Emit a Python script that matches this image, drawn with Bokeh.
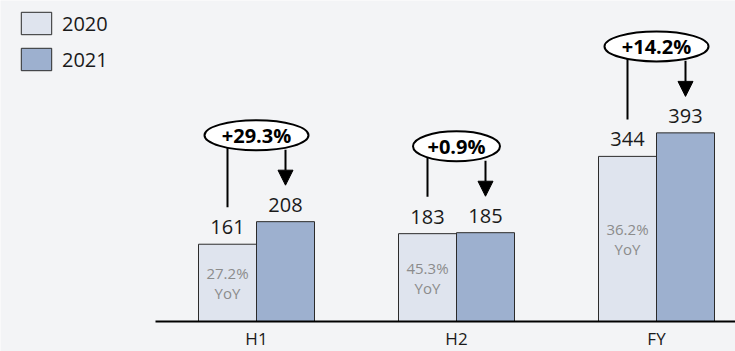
from bokeh.plotting import figure
from bokeh.models import (ColumnDataSource, Range1d, Legend, LegendItem,
                          Arrow, NormalHead)
from bokeh.core.properties import value
from bokeh.embed import file_html
from bokeh.resources import INLINE

# --- data -------------------------------------------------------------------
periods = ["H1", "H2", "FY"]
sales_2020 = [161, 183, 344]
sales_2021 = [208, 185, 393]
yoy_2020 = ["27.2%", "45.3%", "36.2%"]
growth = ["+29.3%", "+0.9%", "+14.2%"]
years = ["2020", "2021"]

# --- style ------------------------------------------------------------------
FONT = "Open Sans"
BG = "#F3F4F6"
C2020 = "#DFE4EE"
C2021 = "#9DB0CF"
EDGE = "#2b2b2b"
TXT = "#1a1a1a"
BAR_W = 0.29

xs = list(range(len(periods)))
x20 = [x - BAR_W / 2 for x in xs]
x21 = [x + BAR_W / 2 for x in xs]

# the frame covers the whole canvas; value 0 sits 30 px above the bottom edge
p = figure(width=735, height=351, output_backend="svg", toolbar_location=None,
           x_range=Range1d(-1.28, 2.395), y_range=Range1d(-62.5, 668.75),
           min_border=0)
p.background_fill_color = BG
p.border_fill_color = BG
p.outline_line_color = None
p.grid.visible = False
p.axis.visible = False

src = ColumnDataSource(dict(
    x=xs, x20=x20, x21=x21, v20=sales_2020, v21=sales_2021,
    zero=[0] * len(xs), period=periods,
    t20=[str(v) for v in sales_2020], t21=[str(v) for v in sales_2021],
    yoy=yoy_2020, yoy_y=[v / 2 for v in sales_2020],
    yoy_word=["YoY"] * len(xs),
    growth=growth,
    ell_y=[max(a, b) + 180 for a, b in zip(sales_2020, sales_2021)],
    ell_w=[17 * len(g) + 2 for g in growth],
    line_bot=[v + 77 for v in sales_2020],
    arrow_start=[max(a, b) + 150 for a, b in zip(sales_2020, sales_2021)],
    arrow_tip=[v + 76 for v in sales_2021],
))

# bars
r20 = p.vbar(x="x20", top="v20", bottom=0, width=BAR_W, source=src,
             fill_color=C2020, line_color=EDGE, line_width=1)
r21 = p.vbar(x="x21", top="v21", bottom=0, width=BAR_W, source=src,
             fill_color=C2021, line_color=EDGE, line_width=1)

# baseline under the bars
p.segment(x0=-0.505, y0=0, x1=2.395, y1=0, line_color="black", line_width=2)

# category labels below the baseline
p.text(x="x", y="zero", text="period", source=src, text_font=value(FONT),
       text_font_size="17px", text_color=TXT, text_align="center",
       text_baseline="top", y_offset=5)

# value labels above bars
common = dict(text_font=value(FONT), text_font_size="20px", text_color=TXT,
              text_align="center", text_baseline="bottom", y_offset=-10)
p.text(x="x20", y="v20", text="t20", source=src, **common)
p.text(x="x21", y="v21", text="t21", source=src, **common)

# YoY note inside the 2020 bars
yoy_style = dict(text_font=value(FONT), text_font_size="15px", text_color="#8c8c8c",
                 text_align="center", text_baseline="middle")
p.text(x="x20", y="yoy_y", text="yoy", source=src, y_offset=-10, **yoy_style)
p.text(x="x20", y="yoy_y", text="yoy_word", source=src, y_offset=10, **yoy_style)

# connector from the 2020 label up to the growth bubble
p.segment(x0="x20", y0="line_bot", x1="x20", y1="ell_y", source=src,
          line_color="black", line_width=2)

# arrow from the bubble down to the 2021 label
p.add_layout(Arrow(end=NormalHead(size=15, fill_color="black", line_color="black"),
                   x_start="x21", y_start="arrow_start", x_end="x21", y_end="arrow_tip",
                   source=src, line_color="black", line_width=2))

# growth bubble
p.ellipse(x="x", y="ell_y", width="ell_w", height=30, width_units="screen",
          height_units="screen", source=src, fill_color="white",
          line_color="black", line_width=2)
p.text(x="x", y="ell_y", text="growth", source=src, text_font=value(FONT),
       text_font_size="20px", text_font_style="bold", text_color="black",
       text_align="center", text_baseline="middle")

# legend swatches are drawn at 80% of the glyph box, hence the larger box
legend = Legend(items=[LegendItem(label=years[0], renderers=[r20]),
                       LegendItem(label=years[1], renderers=[r21])],
                location=(17, 278), orientation="vertical",
                glyph_width=38, glyph_height=28, spacing=8, padding=0, margin=0,
                label_standoff=7, label_text_font=FONT, label_text_font_size="20px",
                label_text_color=TXT, label_height=28,
                background_fill_alpha=0, border_line_color=None)
p.add_layout(legend)

open("out.html", "w").write(file_html(p, INLINE))
